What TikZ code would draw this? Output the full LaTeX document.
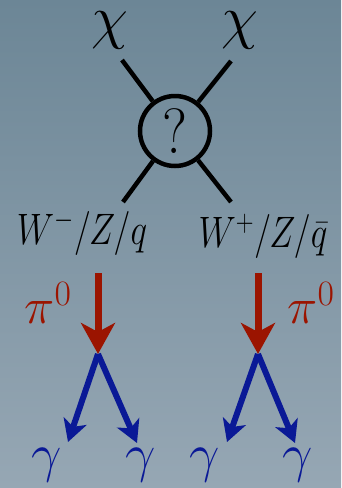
\RequirePackage{fix-cm}
\documentclass[tikz,border=0pt]{standalone}
\usepackage{graphicx}
\usetikzlibrary{arrows.meta}
\definecolor{bgtop}{RGB}{108,134,150}
\definecolor{bgbot}{RGB}{150,167,180}
\definecolor{pired}{RGB}{155,20,0}
\definecolor{gblue}{RGB}{10,25,150}
\tikzset{
  feyn/.style={line width=4.5pt},
  blob/.style={circle, draw, line width=4.5pt, minimum size=70pt, inner sep=0pt},
  pilabel/.style={text=pired, inner sep=0pt},
  glabel/.style={text=gblue, inner sep=0pt, anchor=base},
  wlabel/.style={inner sep=0pt, anchor=base},
  redarrow/.style={draw=pired, line width=7pt, -{Stealth[length=31pt, width=34pt, inset=9pt]}},
  bluearrow/.style={draw=gblue, line width=6pt, -{Stealth[length=22pt, width=24pt, inset=6pt]}}
}
\begin{document}
\begin{tikzpicture}[x=1pt, y=-1pt]
\shade[top color=bgtop, bottom color=bgbot] (0,0) rectangle (341,488);
\useasboundingbox (0,0) rectangle (341,488);
% blob
\node[blob] (blob) at (175,131) {\scalebox{0.9}[1]{\fontsize{64}{68}\selectfont ?}};
% chi labels
\node[inner sep=0pt] (chil) at (110,30) {\fontsize{60}{66}\selectfont $\chi$};
\node[inner sep=0pt] (chir) at (240,30) {\fontsize{60}{66}\selectfont $\chi$};
\coordinate (ul) at (122,60);
\coordinate (ur) at (231,61);
\coordinate (ll) at (123,202);
\coordinate (lr) at (231,202);
\draw[feyn] (ul) -- (blob);
\draw[feyn] (ur) -- (blob);
\draw[feyn] (ll) -- (blob);
\draw[feyn] (lr) -- (blob);
% W labels
\node[wlabel] (wl) at (82,244) {\scalebox{0.8}[1]{\fontsize{44}{50}\selectfont $W^-/Z/q$}};
\node[wlabel] (wr) at (263,247) {\scalebox{0.8}[1]{\fontsize{44}{50}\selectfont $W^+/Z/\bar{q}$}};
% pi0 decays
\coordinate (pl) at (98,273);
\coordinate (pr) at (258,273);
\coordinate (vl) at (98,354);
\coordinate (vr) at (258,354);
\draw[redarrow] (pl) -- (vl);
\draw[redarrow] (pr) -- (vr);
\node[pilabel] (pil) at (48,303) {\fontsize{51}{56}\selectfont $\pi^0$};
\node[pilabel] (pir) at (311,303) {\fontsize{51}{56}\selectfont $\pi^0$};
\coordinate (t1) at (68,442);
\coordinate (t2) at (137,443);
\coordinate (t3) at (227,442);
\coordinate (t4) at (295,443);
\draw[bluearrow] (vl) -- (t1);
\draw[bluearrow] (vl) -- (t2);
\draw[bluearrow] (vr) -- (t3);
\draw[bluearrow] (vr) -- (t4);
\node[glabel] (g1) at (47,471) {\fontsize{54}{60}\selectfont $\gamma$};
\node[glabel] (g2) at (141,471) {\fontsize{54}{60}\selectfont $\gamma$};
\node[glabel] (g3) at (205,471) {\fontsize{54}{60}\selectfont $\gamma$};
\node[glabel] (g4) at (298,471) {\fontsize{54}{60}\selectfont $\gamma$};
\end{tikzpicture}
\end{document}
